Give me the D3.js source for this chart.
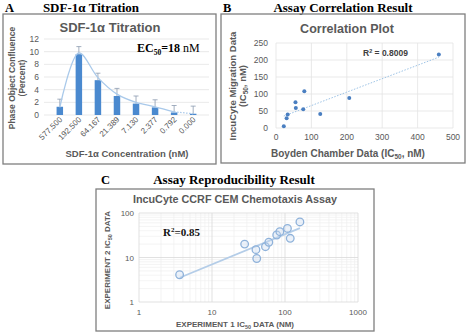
<!DOCTYPE html>
<html>
<head>
<meta charset="utf-8">
<script src="https://cdn.jsdelivr.net/npm/d3@7"></script>
<style>
  body { margin: 0; background: #fff; }
  svg { display: block; }
  text { font-family: "Liberation Sans", Arial, sans-serif; }
  .serif { font-family: "Liberation Serif", "Times New Roman", serif; }
</style>
</head>
<body>
<svg id="fig" width="474" height="335"></svg>
<script>
// ---- panel A data (SDF-1a titration)
var concLabels = ["577.500", "192.500", "64.167", "21.389", "7.130", "2.377", "0.792", "0.000"];
var confluence = [1.3, 9.6, 5.5, 3.0, 1.8, 1.2, 0.4, 0.2];
var errorTop = [2.5, 10.8, 6.6, 4.2, 3.0, 2.4, 1.5, 1.4];
var fitCurve = [1.2, 9.8, 5.9, 3.3, 2.0, 1.3, 0.5, 0.2];
var yTicksA = [0, 2, 4, 6, 8, 10, 12];

// ---- panel B data (correlation)
var boyden = [22, 30, 33, 55, 56, 77, 80, 125, 207, 460];
var incucyte = [5, 29, 40, 76, 59, 55, 108, 41, 88, 216];
var xTicksB = [0, 100, 200, 300, 400, 500];
var yTicksB = [0, 50, 100, 150, 200, 250];

// ---- panel C data (reproducibility)
var exp1 = [3.6, 28, 40, 41, 54, 60, 77, 85, 108, 118, 160];
var exp2 = [4.1, 20, 15, 9.5, 17.5, 22, 32, 38, 45, 27, 63];
var xTicksC = [1, 10, 100, 1000];
var yTicksC = [1, 10, 100];

var svg = d3.select("#fig");
var gray = "#595959";
var boxCol = "#7f7f7f";
var gridCol = "#e3e3e3";
var tickSize = 8.5;

function box(x0, y0, x1, y1) {
  svg.append("rect").attr("x", x0).attr("y", y0)
    .attr("width", x1 - x0).attr("height", y1 - y0)
    .attr("fill", "none").attr("stroke", boxCol).attr("stroke-width", 1.3);
}
function heading(letter, lx, title, tx, y) {
  svg.append("text").attr("class", "serif").attr("x", lx).attr("y", y)
    .attr("font-size", 12.5).attr("font-weight", "bold").text(letter);
  svg.append("text").attr("class", "serif").attr("x", tx).attr("y", y)
    .attr("text-anchor", "middle").attr("font-size", 13).attr("font-weight", "bold").text(title);
}
function ctitle(txt, x, y, size) {
  svg.append("text").attr("x", x).attr("y", y).attr("text-anchor", "middle")
    .attr("font-size", size).attr("font-weight", "bold").attr("fill", gray).text(txt);
}

// ================= A =================
heading("A", 5, "SDF-1\u03b1 Titration", 91, 12);
box(3, 14, 216, 164);
ctitle("SDF-1\u03b1 Titration", 110, 32, 13);

var xA = d3.scaleBand().domain(concLabels).range([44, 209]).padding(0.66);
var yA = d3.scaleLinear().domain([0, 12]).range([115, 39]);
var gA = svg.append("g");

gA.selectAll(".grid").data(yTicksA).enter().append("line")
  .attr("x1", 44).attr("x2", 209)
  .attr("y1", function(d) { return yA(d); }).attr("y2", function(d) { return yA(d); })
  .attr("stroke", gridCol).attr("stroke-width", 0.8);

gA.selectAll(".yl").data(yTicksA).enter().append("text")
  .attr("x", 39).attr("y", function(d) { return yA(d) + 3; })
  .attr("text-anchor", "end").attr("font-size", tickSize).attr("fill", gray)
  .text(function(d) { return d; });

gA.selectAll(".bar").data(confluence).enter().append("rect")
  .attr("x", function(d, i) { return xA(concLabels[i]); })
  .attr("y", function(d) { return yA(d); })
  .attr("width", xA.bandwidth())
  .attr("height", function(d) { return yA(0) - yA(d); })
  .attr("fill", "#4a89cf");

// error bars (upper only)
gA.selectAll(".err").data(errorTop).enter().append("path")
  .attr("d", function(d, i) {
    var cx = xA(concLabels[i]) + xA.bandwidth() / 2;
    return "M" + cx + "," + yA(confluence[i]) + "V" + yA(d) + "M" + (cx - 2.5) + "," + yA(d) + "H" + (cx + 2.5);
  })
  .attr("stroke", "#8c9bb0").attr("stroke-width", 0.8).attr("fill", "none");

var curveLine = d3.line()
  .x(function(d, i) { return xA(concLabels[i]) + xA.bandwidth() / 2; })
  .y(function(d) { return yA(d); })
  .curve(d3.curveCatmullRom.alpha(0.5));
var solidPart = fitCurve.slice(0, 7);
gA.append("path").attr("d", curveLine(solidPart))
  .attr("fill", "none").attr("stroke", "#a9c9ea").attr("stroke-width", 1.3);
gA.append("path")
  .attr("d", d3.line()
    .x(function(d, i) { return xA(concLabels[i + 6]) + xA.bandwidth() / 2; })
    .y(function(d) { return yA(d); })(fitCurve.slice(6)))
  .attr("fill", "none").attr("stroke", "#a9c9ea").attr("stroke-width", 1.3)
  .attr("stroke-dasharray", "1.5,1.5");

gA.selectAll(".xl").data(concLabels).enter().append("text")
  .attr("transform", function(d) {
    var cx = xA(d) + xA.bandwidth() / 2 + 3;
    return "translate(" + cx + ",120) rotate(-45)";
  })
  .attr("text-anchor", "end").attr("font-size", 8).attr("fill", gray)
  .text(function(d) { return d; });

ctitle("SDF-1\u03b1 Concentration (nM)", 127, 157, 9.5);

var ytA = svg.append("text").attr("transform", "translate(15,78) rotate(-90)")
  .attr("text-anchor", "middle").attr("font-size", 8.5).attr("font-weight", "bold").attr("fill", gray);
ytA.append("tspan").attr("x", 0).attr("dy", 0).text("Phase Object Confluence");
ytA.append("tspan").attr("x", 0).attr("dy", 10).text("(Percent)");

var ec = svg.append("text").attr("class", "serif").attr("x", 137).attr("y", 52).attr("font-size", 12);
ec.append("tspan").attr("font-weight", "bold").text("EC");
ec.append("tspan").attr("font-weight", "bold").attr("font-size", 7.5).attr("dy", 3).text("50");
ec.append("tspan").attr("font-weight", "bold").attr("dy", -3).text("=18");
ec.append("tspan").text(" nM");

// ================= B =================
heading("B", 223, "Assay Correlation Result", 343, 12);
box(221, 14, 465, 163);
ctitle("Correlation Plot", 347, 33, 12.5);

var xB = d3.scaleLinear().domain([0, 500]).range([276, 453]);
var yB = d3.scaleLinear().domain([0, 250]).range([128, 43]);
var gB = svg.append("g");

gB.selectAll(".gy").data(yTicksB).enter().append("line")
  .attr("x1", xB(0)).attr("x2", xB(500))
  .attr("y1", function(d) { return yB(d); }).attr("y2", function(d) { return yB(d); })
  .attr("stroke", gridCol).attr("stroke-width", 0.8);
gB.selectAll(".gx").data(xTicksB).enter().append("line")
  .attr("y1", yB(0)).attr("y2", yB(250))
  .attr("x1", function(d) { return xB(d); }).attr("x2", function(d) { return xB(d); })
  .attr("stroke", gridCol).attr("stroke-width", 0.8);

gB.selectAll(".yl").data(yTicksB).enter().append("text")
  .attr("x", 268).attr("y", function(d) { return yB(d) + 3; })
  .attr("text-anchor", "end").attr("font-size", tickSize).attr("fill", gray)
  .text(function(d) { return d; });
gB.selectAll(".xl").data(xTicksB).enter().append("text")
  .attr("x", function(d) { return xB(d); }).attr("y", 140)
  .attr("text-anchor", "middle").attr("font-size", tickSize).attr("fill", gray)
  .text(function(d) { return d; });

// linear trend line from the points
var mx = d3.mean(boyden), my = d3.mean(incucyte);
var sxy = d3.sum(boyden, function(d, i) { return (d - mx) * (incucyte[i] - my); });
var sxx = d3.sum(boyden, function(d) { return (d - mx) * (d - mx); });
var slope = sxy / sxx, icpt = my - slope * mx;
var xr = d3.extent(boyden);
gB.append("line")
  .attr("x1", xB(xr[0])).attr("y1", yB(icpt + slope * xr[0]))
  .attr("x2", xB(xr[1])).attr("y2", yB(icpt + slope * xr[1]))
  .attr("stroke", "#9dc3e6").attr("stroke-width", 1).attr("stroke-dasharray", "1.5,1.5");

gB.selectAll(".pt").data(boyden).enter().append("circle")
  .attr("cx", function(d) { return xB(d); })
  .attr("cy", function(d, i) { return yB(incucyte[i]); })
  .attr("r", 2).attr("fill", "#4a7fc1");

var r2 = svg.append("text").attr("x", 363).attr("y", 56).attr("font-size", 8.5)
  .attr("font-weight", "bold").attr("fill", "#404040");
r2.append("tspan").text("R");
r2.append("tspan").attr("font-size", 5.5).attr("dy", -3).text("2");
r2.append("tspan").attr("dy", 3).text(" = 0.8009");

var xtB = svg.append("text").attr("x", 348).attr("y", 157).attr("text-anchor", "middle")
  .attr("font-size", 10).attr("font-weight", "bold").attr("fill", gray);
xtB.append("tspan").text("Boyden Chamber Data (IC");
xtB.append("tspan").attr("font-size", 6.5).attr("dy", 2).text("50");
xtB.append("tspan").attr("dy", -2).text(", nM)");

var ytB = svg.append("text").attr("transform", "translate(236,86) rotate(-90)")
  .attr("text-anchor", "middle").attr("font-size", 9.5).attr("font-weight", "bold").attr("fill", gray);
ytB.append("tspan").attr("x", 0).text("IncuCyte Migration Data");
var ytB2 = svg.append("text").attr("transform", "translate(246,86) rotate(-90)")
  .attr("text-anchor", "middle").attr("font-size", 9.5).attr("font-weight", "bold").attr("fill", gray);
ytB2.append("tspan").text("(IC");
ytB2.append("tspan").attr("font-size", 6.5).attr("dy", 2).text("50");
ytB2.append("tspan").attr("dy", -2).text(", nM)");

// ================= C =================
heading("C", 101, "Assay Reproducibility Result", 234, 184);
box(96, 189, 374, 331);
ctitle("IncuCyte CCRF CEM Chemotaxis Assay", 235, 203, 10.8);

var xC = d3.scaleLog().domain([1, 1000]).range([139, 358]);
var yC = d3.scaleLog().domain([1, 100]).range([302, 213]);
var gC = svg.append("g");

var minorX = [], minorY = [];
[1, 10, 100].forEach(function(dec) {
  for (var k = 2; k <= 9; k++) { minorX.push(dec * k); }
});
[1, 10].forEach(function(dec) {
  for (var k = 2; k <= 9; k++) { minorY.push(dec * k); }
});
gC.selectAll(".mx").data(minorX).enter().append("line")
  .attr("x1", function(d) { return xC(d); }).attr("x2", function(d) { return xC(d); })
  .attr("y1", yC(1)).attr("y2", yC(100)).attr("stroke", "#efefef").attr("stroke-width", 0.7);
gC.selectAll(".my").data(minorY).enter().append("line")
  .attr("y1", function(d) { return yC(d); }).attr("y2", function(d) { return yC(d); })
  .attr("x1", xC(1)).attr("x2", xC(1000)).attr("stroke", "#efefef").attr("stroke-width", 0.7);
gC.selectAll(".gx").data(xTicksC).enter().append("line")
  .attr("x1", function(d) { return xC(d); }).attr("x2", function(d) { return xC(d); })
  .attr("y1", yC(1)).attr("y2", yC(100)).attr("stroke", "#d9d9d9").attr("stroke-width", 0.8);
gC.selectAll(".gy").data(yTicksC).enter().append("line")
  .attr("y1", function(d) { return yC(d); }).attr("y2", function(d) { return yC(d); })
  .attr("x1", xC(1)).attr("x2", xC(1000)).attr("stroke", "#d9d9d9").attr("stroke-width", 0.8);

gC.selectAll(".xl").data(xTicksC).enter().append("text")
  .attr("x", function(d) { return xC(d); }).attr("y", 315)
  .attr("text-anchor", "middle").attr("font-size", 8).attr("fill", gray)
  .text(function(d) { return d; });
gC.selectAll(".yl").data(yTicksC).enter().append("text")
  .attr("x", 134).attr("y", function(d) { return yC(d) + 3; })
  .attr("text-anchor", "end").attr("font-size", 8).attr("fill", gray)
  .text(function(d) { return d; });

// power trend line fitted in log space
var lx = exp1.map(Math.log10), ly = exp2.map(Math.log10);
var mlx = d3.mean(lx), mly = d3.mean(ly);
var b = d3.sum(lx, function(d, i) { return (d - mlx) * (ly[i] - mly); }) /
        d3.sum(lx, function(d) { return (d - mlx) * (d - mlx); });
var a = mly - b * mlx;
var er = d3.extent(exp1);
gC.append("line")
  .attr("x1", xC(er[0])).attr("y1", yC(Math.pow(10, a + b * Math.log10(er[0]))))
  .attr("x2", xC(er[1])).attr("y2", yC(Math.pow(10, a + b * Math.log10(er[1]))))
  .attr("stroke", "#b4cde8").attr("stroke-width", 1.8);

gC.selectAll(".pt").data(exp1).enter().append("circle")
  .attr("cx", function(d) { return xC(d); })
  .attr("cy", function(d, i) { return yC(exp2[i]); })
  .attr("r", 3.8).attr("fill", "rgba(200,218,240,0.35)")
  .attr("stroke", "#8fb2da").attr("stroke-width", 1.3);

var r2c = svg.append("text").attr("class", "serif").attr("x", 163).attr("y", 236)
  .attr("font-size", 11).attr("font-weight", "bold").attr("fill", "#111");
r2c.append("tspan").text("R");
r2c.append("tspan").attr("font-size", 7).attr("dy", -4).text("2");
r2c.append("tspan").attr("dy", 4).text("=0.85");

var xtC = svg.append("text").attr("x", 235).attr("y", 327).attr("text-anchor", "middle")
  .attr("font-size", 8).attr("font-weight", "bold").attr("fill", gray);
xtC.append("tspan").text("EXPERIMENT 1 IC");
xtC.append("tspan").attr("font-size", 5.5).attr("dy", 2).text("50");
xtC.append("tspan").attr("dy", -2).text(" DATA (NM)");

var ytC = svg.append("text").attr("transform", "translate(110,260) rotate(-90)")
  .attr("text-anchor", "middle").attr("font-size", 8).attr("font-weight", "bold").attr("fill", gray);
ytC.append("tspan").text("EXPERIMENT 2 IC");
ytC.append("tspan").attr("font-size", 5.5).attr("dy", 2).text("50");
ytC.append("tspan").attr("dy", -2).text(" DATA");
</script>
</body>
</html>
